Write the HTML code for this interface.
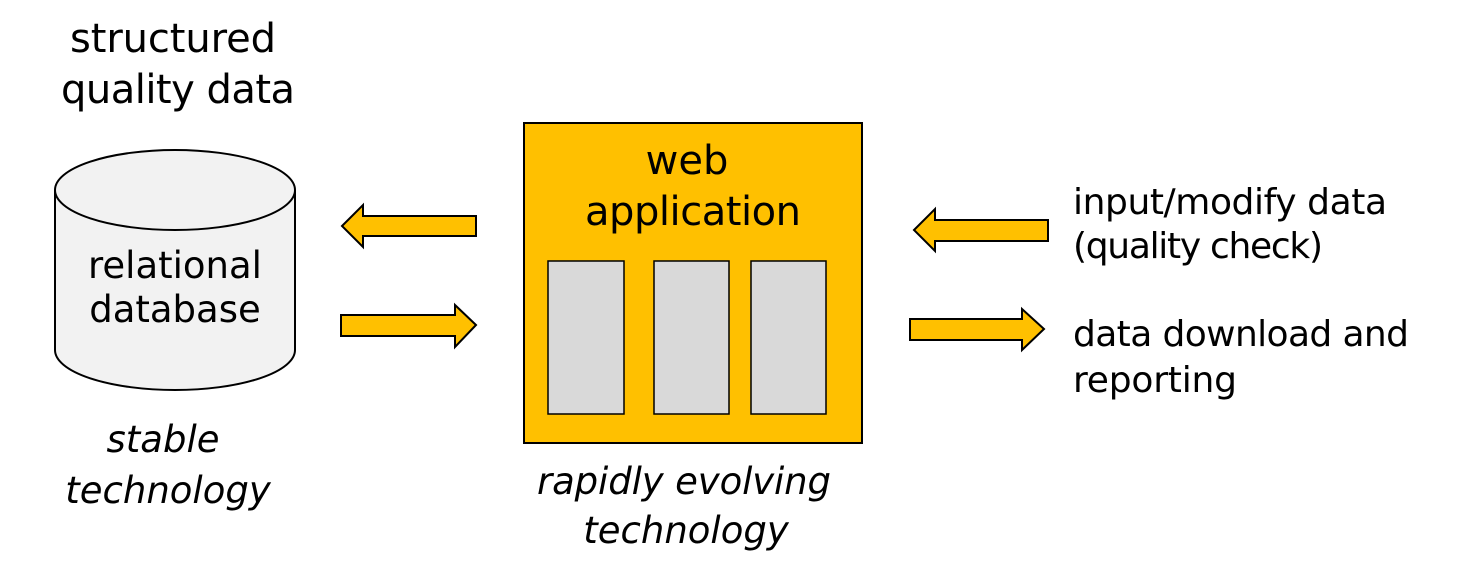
<!DOCTYPE html>
<html><head><style>html,body{margin:0;padding:0;background:#fff}</style></head>
<body>
<svg width="1472" height="580" xmlns="http://www.w3.org/2000/svg" font-family="'DejaVu Sans','Liberation Sans',sans-serif" font-size="40">
<text x="173" y="52" text-anchor="middle" textLength="206">structured</text>
<text x="178" y="103" text-anchor="middle" textLength="234">quality data</text>
<path d="M55,190 L55,350 A120,40 0 0 0 295,350 L295,190" fill="#f2f2f2" stroke="#000" stroke-width="2"/>
<ellipse cx="175" cy="190" rx="120" ry="40" fill="#f2f2f2" stroke="#000" stroke-width="2"/>
<text x="175" y="278" text-anchor="middle" font-size="37">relational</text>
<text x="175" y="322" text-anchor="middle" font-size="37">database</text>
<text x="163" y="452" text-anchor="middle" font-style="italic" font-size="37">stable</text>
<text x="168" y="503" text-anchor="middle" font-style="italic" font-size="37">technology</text>
<path d="M342,226 L363,205 L363,216 L476,216 L476,236 L363,236 L363,247 Z" fill="#ffc000" stroke="#000" stroke-width="2"/>
<path d="M476,325 L455,305 L455,315 L341,315 L341,336 L455,336 L455,347 Z" fill="#ffc000" stroke="#000" stroke-width="2"/>
<rect x="524" y="123" width="338" height="320" fill="#ffc000" stroke="#000" stroke-width="2"/>
<text x="687" y="174" text-anchor="middle">web</text>
<text x="693" y="225" text-anchor="middle" textLength="216">application</text>
<rect x="548" y="261" width="76" height="153" fill="#d9d9d9" stroke="#000" stroke-width="1.5"/>
<rect x="654" y="261" width="75" height="153" fill="#d9d9d9" stroke="#000" stroke-width="1.5"/>
<rect x="751" y="261" width="75" height="153" fill="#d9d9d9" stroke="#000" stroke-width="1.5"/>
<text x="684" y="494" text-anchor="middle" font-style="italic" font-size="37" textLength="294">rapidly evolving</text>
<text x="686" y="543" text-anchor="middle" font-style="italic" font-size="37">technology</text>
<path d="M914,230 L935,209 L935,220 L1048,220 L1048,241 L935,241 L935,251 Z" fill="#ffc000" stroke="#000" stroke-width="2"/>
<path d="M1044,329 L1022,309 L1022,319 L910,319 L910,340 L1022,340 L1022,350 Z" fill="#ffc000" stroke="#000" stroke-width="2"/>
<g font-size="36">
<text x="1073" y="214" textLength="314">input/modify data</text>
<text x="1073" y="258" textLength="250">(quality check)</text>
<text x="1073" y="346" textLength="336">data download and</text>
<text x="1073" y="392" textLength="164">reporting</text>
</g>
</svg>
</body></html>
